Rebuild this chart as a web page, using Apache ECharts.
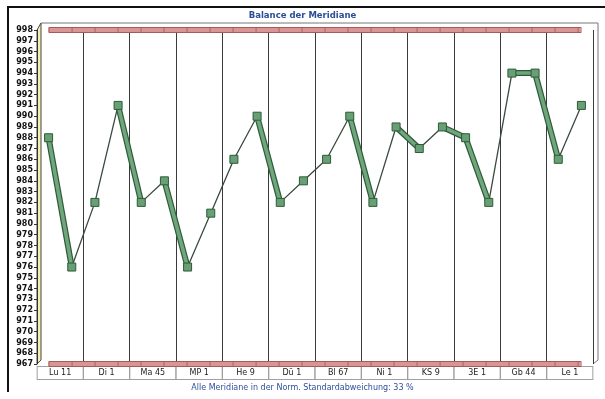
<!DOCTYPE html>
<html>
<head>
<meta charset="utf-8">
<script src="https://cdn.jsdelivr.net/npm/echarts@6/dist/echarts.min.js"></script>
<style>
  html, body { margin: 0; padding: 0; background: #fff; }
  #chart { width: 605px; height: 399px; }
</style>
</head>
<body>
<div id="chart"></div>
<script>
// Meridiane (je zwei Messpunkte: links / rechts)
const meridians = ['Lu 11', 'Di 1', 'Ma 45', 'MP 1', 'He 9', 'Dü 1', 'Bl 67', 'Ni 1', 'KS 9', '3E 1', 'Gb 44', 'Le 1']
const sides = ['L', 'R']
const values = [
  988, 976, 982, 991, 982, 984, 976, 981, 986, 990, 982, 984,
  986, 990, 982, 989, 987, 989, 988, 982, 994, 994, 986, 991
]
const normUpper = 998
const normLower = 967
const yMin = 967
const yMax = 998

const titleText = 'Balance der Meridiane'
const footText = 'Alle Meridiane in der Norm. Standardabweichung: 33 %'

// Messpunkte: zwei pro Meridian
const slots = []
meridians.forEach(m => sides.forEach(s => slots.push(m + ' ' + s)))

// fallende (oder gleichbleibende) Abschnitte werden als breites Band gezeichnet
const fallSegments = []
for (let i = 0; i < values.length - 1; i++) {
  if (values[i + 1] <= values[i]) {
    fallSegments.push({ coords: [[slots[i], values[i]], [slots[i + 1], values[i + 1]]] })
  }
}

const normLines = [normUpper, normLower].map(v => ({
  coords: [[slots[0], v], [slots[slots.length - 1], v]]
}))

const chart = echarts.init(document.getElementById('chart'))

const option = {
  animation: false,
  textStyle: { fontFamily: 'DejaVu Sans' },
  title: [
    {
      text: titleText,
      left: 'center',
      top: 6,
      textStyle: { fontSize: 8.5, fontWeight: 'bold', color: '#2b4c96', fontFamily: 'DejaVu Sans' }
    },
    {
      text: footText,
      left: 'center',
      top: 379,
      textStyle: { fontSize: 8, fontWeight: 'normal', color: '#2f4f9a', fontFamily: 'DejaVu Sans' }
    }
  ],
  grid: { left: 37, right: 12, top: 30, bottom: 35 },
  xAxis: [
    {
      type: 'category',
      data: meridians,
      boundaryGap: true,
      axisLine: { show: false },
      axisTick: { show: false },
      splitLine: { show: true, lineStyle: { color: '#3a3a3a', width: 1 } },
      axisLabel: {
        interval: 0,
        margin: 3,
        fontSize: 8,
        color: '#222',
        width: 45,
        height: 12,
        lineHeight: 12,
        align: 'center',
        backgroundColor: '#fff',
        borderColor: '#a0a0a0',
        borderWidth: 1
      }
    },
    {
      type: 'category',
      data: slots,
      boundaryGap: true,
      show: false
    }
  ],
  yAxis: {
    type: 'value',
    min: yMin,
    max: yMax,
    interval: 1,
    axisLine: { show: true, lineStyle: { color: '#333', width: 1 } },
    axisTick: { show: true, length: 3, lineStyle: { color: '#333' } },
    splitLine: { show: false },
    axisLabel: { fontSize: 8, color: '#111', margin: 4, fontWeight: 'bold' }
  },
  graphic: [
    // Seitenwand links (3D)
    {
      type: 'polygon',
      shape: { points: [[37, 30], [41, 23], [41, 360], [37, 364]] },
      style: { fill: '#f4eeb0', stroke: '#444', lineWidth: 1 },
      z: 0
    },
    // Rückwand
    {
      type: 'polyline',
      shape: { points: [[41, 23], [598, 23], [598, 360], [593, 364]] },
      style: { stroke: '#777', lineWidth: 1, fill: null },
      z: 0
    },
    // Rahmen
    {
      type: 'polyline',
      shape: { points: [[8, 392], [8, 7], [605, 7]] },
      style: { stroke: '#111', lineWidth: 2, fill: null },
      z: 0
    }
  ],
  series: [
    {
      name: 'Norm',
      type: 'lines',
      coordinateSystem: 'cartesian2d',
      xAxisIndex: 1,
      z: 2,
      data: normLines,
      lineStyle: { color: '#a65a5a', width: 6, opacity: 1 }
    },
    {
      name: 'Norm Fläche',
      type: 'lines',
      coordinateSystem: 'cartesian2d',
      xAxisIndex: 1,
      z: 3,
      data: normLines,
      lineStyle: { color: '#d99494', width: 4, opacity: 1 }
    },
    {
      name: 'Norm Raster',
      type: 'lines',
      coordinateSystem: 'cartesian2d',
      xAxisIndex: 1,
      z: 4,
      data: normLines,
      lineStyle: { color: '#a45a5a', width: 4, opacity: 0.8, type: [1, 22] }
    },
    {
      name: 'Verlauf',
      type: 'line',
      xAxisIndex: 1,
      data: values,
      z: 5,
      symbol: 'none',
      lineStyle: { color: '#3a4a3f', width: 1.3 }
    },
    {
      name: 'Abfall Rand',
      type: 'lines',
      coordinateSystem: 'cartesian2d',
      xAxisIndex: 1,
      z: 6,
      data: fallSegments,
      lineStyle: { color: '#2e5a3a', width: 6, opacity: 1 }
    },
    {
      name: 'Abfall',
      type: 'lines',
      coordinateSystem: 'cartesian2d',
      xAxisIndex: 1,
      z: 7,
      data: fallSegments,
      lineStyle: { color: '#6fa67c', width: 3.6, opacity: 1 }
    },
    {
      name: 'Punkte',
      type: 'scatter',
      xAxisIndex: 1,
      data: values,
      z: 8,
      symbol: 'rect',
      symbolSize: 8,
      itemStyle: { color: '#68a074', borderColor: '#2e5a3a', borderWidth: 1, opacity: 1 }
    }
  ]
}

chart.setOption(option)
</script>
</body>
</html>
